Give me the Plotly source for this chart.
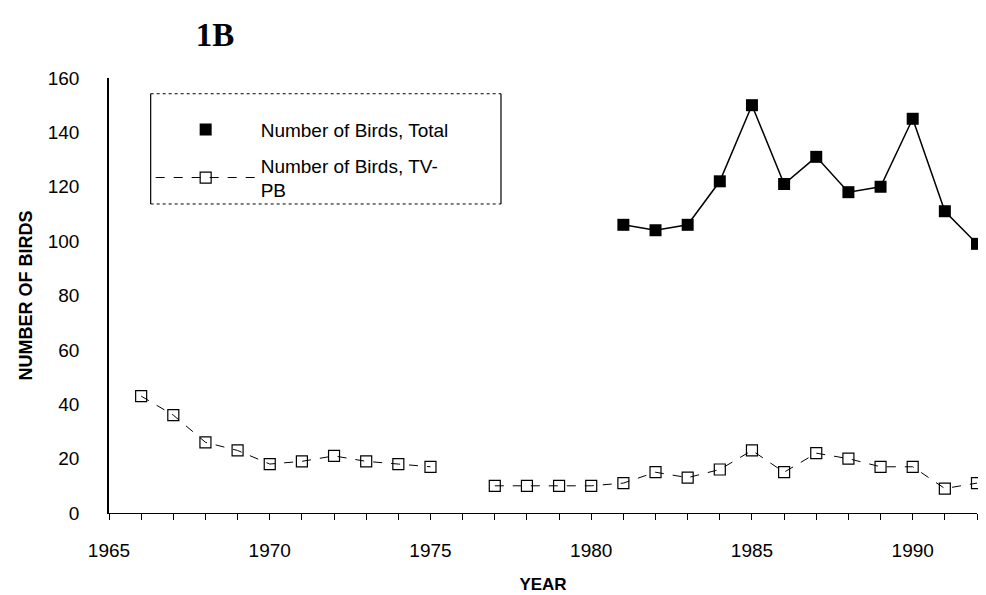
import plotly.graph_objects as go

# ---- data ----
total_years = [1981, 1982, 1983, 1984, 1985, 1986, 1987, 1988, 1989, 1990, 1991, 1992]
total_birds = [106, 104, 106, 122, 150, 121, 131, 118, 120, 145, 111, 99]

tvpb_years = list(range(1966, 1993))
tvpb_birds = [43, 36, 26, 23, 18, 19, 21, 19, 18, 17, None,
              10, 10, 10, 10, 11, 15, 13, 16, 23, 15, 22, 20, 17, 17, 9, 11]

x_tick_vals = [1965, 1970, 1975, 1980, 1985, 1990]
x_tick_labels = ["1965", "1970", "1975", "1980", "1985", "1990"]
y_tick_vals = [0, 20, 40, 60, 80, 100, 120, 140, 160]

FONT = "Liberation Sans, Arial, sans-serif"

fig = go.Figure()

# Total: line (no legend) + markers (legend shows marker only)
fig.add_trace(go.Scatter(
    x=total_years, y=total_birds, mode="lines",
    line=dict(color="black", width=1.5), showlegend=False,
    legendgroup="total", hoverinfo="skip", cliponaxis=False))
fig.add_trace(go.Scatter(
    x=total_years, y=total_birds, mode="markers",
    name="Number of Birds, Total", legendgroup="total",
    marker=dict(symbol="square", size=12, color="black"),
    cliponaxis=False))

fig.add_trace(go.Scatter(
    x=tvpb_years, y=tvpb_birds, mode="lines+markers",
    name="Number of Birds, TV-<br>PB", connectgaps=False,
    line=dict(color="black", width=1, dash="dash"),
    marker=dict(symbol="square-open", size=11, color="black",
                line=dict(width=1.2, color="black")),
    cliponaxis=False))

# legend frame (left/right solid, top/bottom dotted as in the scan)
box = dict(x0=0.048, x1=0.4516, y0=0.7104, y1=0.9638)
frame = [
    dict(type="line", xref="paper", yref="paper", x0=box["x0"], x1=box["x0"],
         y0=box["y0"], y1=box["y1"], line=dict(color="black", width=1.2)),
    dict(type="line", xref="paper", yref="paper", x0=box["x1"], x1=box["x1"],
         y0=box["y0"], y1=box["y1"], line=dict(color="black", width=1.2)),
    dict(type="line", xref="paper", yref="paper", x0=box["x0"], x1=box["x1"],
         y0=box["y1"], y1=box["y1"], line=dict(color="black", width=1, dash="dot")),
    dict(type="line", xref="paper", yref="paper", x0=box["x0"], x1=box["x1"],
         y0=box["y0"], y1=box["y0"], line=dict(color="black", width=1, dash="dot")),
]

fig.update_layout(
    width=986, height=595,
    margin=dict(l=101, r=17, t=70, b=83),
    paper_bgcolor="white", plot_bgcolor="white",
    font=dict(family=FONT, size=19, color="black"),
    title=dict(text="<b>1B</b>", x=0.21, xref="container", xanchor="center",
               y=0.955, yref="container", yanchor="middle",
               font=dict(family="Liberation Serif, Times New Roman, serif",
                         size=33, color="black")),
    xaxis=dict(
        range=[1965, 1992], tickmode="array", tickvals=x_tick_vals,
        ticktext=x_tick_labels, ticks="outside", ticklen=6,
        tickcolor="black", tickwidth=1,
        minor=dict(dtick=1, tick0=1965, ticks="outside", ticklen=6,
                   tickcolor="black", tickwidth=1, showgrid=False),
        showline=True, linecolor="black", linewidth=1,
        showgrid=False, zeroline=False, ticklabelstandoff=14,
        title=dict(text="<b>YEAR</b>", font=dict(size=17), standoff=18),
        tickfont=dict(size=19),
    ),
    xaxis2=dict(
        overlaying="x", anchor="y", side="bottom", range=[1965, 1992],
        tickmode="linear", tick0=1965, dtick=1, ticks="inside", ticklen=6,
        tickcolor="black", tickwidth=1, showticklabels=False,
        showline=False, showgrid=False, zeroline=False,
    ),
    yaxis=dict(
        range=[0, 160], tickmode="array", tickvals=y_tick_vals,
        ticks="", showline=True, linecolor="black", linewidth=1.5,
        showgrid=False, zeroline=False, ticklabelstandoff=24,
        title=dict(text="<b>NUMBER OF BIRDS</b>", font=dict(size=18), standoff=10),
        tickfont=dict(size=19),
    ),
    legend=dict(
        x=0.048, y=0.925, xanchor="left", yanchor="top",
        borderwidth=0, bgcolor="rgba(0,0,0,0)",
        itemwidth=100, font=dict(size=19), tracegroupgap=8,
        itemclick=False,
    ),
    shapes=frame,
    showlegend=True,
)

fig.write_html("out.html")
